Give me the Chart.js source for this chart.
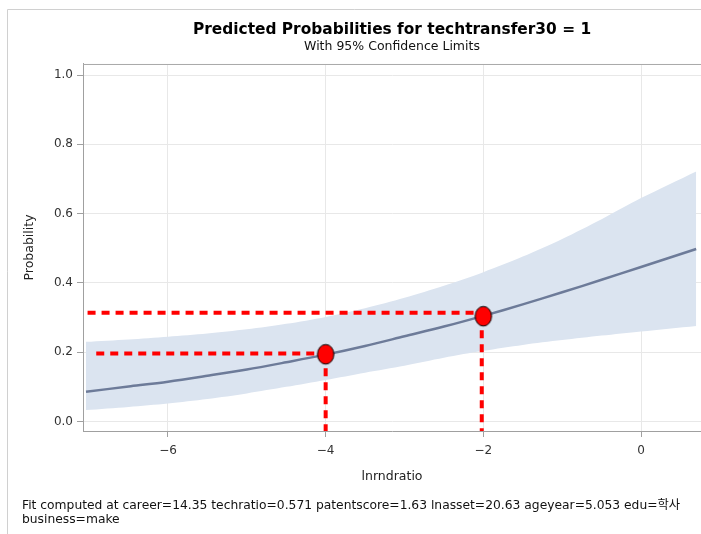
<!DOCTYPE html>
<html>
<head>
<meta charset="utf-8">
<script src="https://cdn.jsdelivr.net/npm/chart.js@4/dist/chart.umd.min.js"></script>
<style>
  html, body { margin: 0; padding: 0; background: #fff; overflow: hidden; }
  .wrap { position: relative; width: 701px; height: 534px; }
</style>
</head>
<body>
<div class="wrap"><canvas id="probChart"></canvas></div>
<script>
// values
const xValues   = [-7.04, -6.5, -6, -5.5, -5, -4.5, -4, -3.5, -3, -2.5, -2, -1.5, -1, -0.5, 0, 0.7];
const predicted = [0.086, 0.101, 0.115, 0.132, 0.150, 0.171, 0.193, 0.218, 0.246, 0.274, 0.305, 0.338, 0.373, 0.409, 0.446, 0.498];
const lowerCL   = [0.033, 0.042, 0.052, 0.065, 0.081, 0.100, 0.120, 0.141, 0.161, 0.184, 0.204, 0.221, 0.235, 0.248, 0.260, 0.276];
const upperCL   = [0.230, 0.237, 0.245, 0.254, 0.266, 0.282, 0.302, 0.327, 0.357, 0.392, 0.431, 0.476, 0.527, 0.584, 0.645, 0.722];

// marked points and the red guide lines
const markX = [-4, -2];
const markY = [0.194, 0.304];
const guideLevels = [0.196, 0.314];
const guideStarts = [-6.91, -7.02];
const guideDrops  = [-4, -2.02];

const xTicks = [-6, -4, -2, 0];
const xTickLabels = ['\u22126', '\u22124', '\u22122', '0'];
const yTicks = [0, 0.2, 0.4, 0.6, 0.8, 1.0];
const yTickLabels = ['0.0', '0.2', '0.4', '0.6', '0.8', '1.0'];

const footnoteLines = [
  'Fit computed at career=14.35 techratio=0.571 patentscore=1.63 lnasset=20.63 ageyear=5.053 edu=\ud559\uc0ac',
  'business=make'
];

const xMin = -7.078, xMax = 0.761;
const yMin = -0.0274, yMax = 1.032;

const pts = (xs, ys) => xs.map((x, i) => ({x: x, y: ys[i]}));

// red ellipse marker
const dot = document.createElement('canvas');
dot.width = 20;
dot.height = 24;
const dc = dot.getContext('2d');
dc.beginPath();
dc.ellipse(10, 12, 8.2, 9.8, 0, 0, 2 * Math.PI);
dc.fillStyle = '#ff0000';
dc.fill();
dc.lineWidth = 1;
dc.strokeStyle = '#000';
dc.stroke();

const guideStyle = {
  borderColor: '#ff0000',
  borderWidth: 4,
  borderDash: [8, 6],
  pointRadius: 0,
  fill: false,
  order: 1
};

const framePlugin = {
  id: 'frame',
  beforeDraw(chart) {
    const ctx = chart.ctx;
    ctx.save();
    ctx.fillStyle = '#fff';
    ctx.fillRect(0, 0, chart.width, chart.height);
    ctx.strokeStyle = '#d0d0d0';
    ctx.lineWidth = 1;
    ctx.beginPath();
    ctx.moveTo(7.5, chart.height);
    ctx.lineTo(7.5, 9.5);
    ctx.lineTo(chart.width, 9.5);
    ctx.stroke();
    ctx.restore();
  },
  beforeDatasetsDraw(chart) {
    const a = chart.chartArea;
    const ctx = chart.ctx;
    ctx.save();
    ctx.strokeStyle = '#a8a8a8';
    ctx.lineWidth = 1;
    ctx.beginPath();
    ctx.moveTo(a.left, a.top + 0.5);
    ctx.lineTo(a.right, a.top + 0.5);
    ctx.stroke();
    ctx.restore();
  },
  afterDraw(chart) {
    const ctx = chart.ctx;
    ctx.save();
    ctx.font = '12.3px "DejaVu Sans", "Noto Sans CJK KR", sans-serif';
    ctx.fillStyle = '#111';
    ctx.textBaseline = 'middle';
    footnoteLines.forEach((t, i) => ctx.fillText(t, 22, 506 + i * 14));
    ctx.restore();
  }
};

new Chart(document.getElementById('probChart'), {
  type: 'line',
  data: {
    datasets: [
      {
        data: pts(markX, markY),
        showLine: false,
        pointStyle: dot,
        pointRadius: 10,
        order: 0
      },
      Object.assign({data: [{x: guideStarts[0], y: guideLevels[0]}, {x: markX[0], y: guideLevels[0]}]}, guideStyle),
      Object.assign({data: [{x: guideStarts[1], y: guideLevels[1]}, {x: markX[1], y: guideLevels[1]}]}, guideStyle),
      Object.assign({data: [{x: guideDrops[0], y: markY[0]}, {x: guideDrops[0], y: yMin}]}, guideStyle),
      Object.assign({data: [{x: guideDrops[1], y: markY[1]}, {x: guideDrops[1], y: yMin}]}, guideStyle),
      {
        data: pts(xValues, predicted),
        borderColor: '#6d7b99',
        borderWidth: 2.5,
        pointRadius: 0,
        tension: 0.3,
        fill: false,
        order: 2
      },
      {
        data: pts(xValues, lowerCL),
        borderWidth: 0,
        borderColor: 'rgba(0,0,0,0)',
        pointRadius: 0,
        tension: 0.3,
        fill: false,
        order: 3
      },
      {
        data: pts(xValues, upperCL),
        borderWidth: 0,
        borderColor: 'rgba(0,0,0,0)',
        backgroundColor: '#dbe4f0',
        pointRadius: 0,
        tension: 0.3,
        fill: '-1',
        order: 4
      }
    ]
  },
  options: {
    responsive: true,
    maintainAspectRatio: false,
    animation: false,
    events: [],
    layout: { padding: 0, autoPadding: false },
    plugins: {
      legend: { display: false },
      tooltip: { enabled: false },
      title: {
        display: true,
        text: 'Predicted Probabilities for techtransfer30 = 1',
        fullSize: false,
        color: '#000',
        font: { family: 'DejaVu Sans', size: 15.4, weight: 'bold' },
        padding: { top: 21, bottom: 0 }
      },
      subtitle: {
        display: true,
        text: 'With 95% Confidence Limits',
        fullSize: false,
        color: '#111',
        font: { family: 'DejaVu Sans', size: 12.5 },
        padding: { top: 0, bottom: 9.5 }
      }
    },
    scales: {
      x: {
        type: 'linear',
        min: xMin,
        max: xMax,
        afterFit(scale) {
          scale.height = 103;
          scale.paddingLeft = 0;
          scale.paddingRight = 0;
        },
        afterBuildTicks(scale) { scale.ticks = xTicks.map(v => ({value: v})); },
        ticks: {
          color: '#333',
          font: { family: 'DejaVu Sans', size: 12 },
          padding: 7,
          maxRotation: 0,
          callback: (v) => xTickLabels[xTicks.indexOf(v)]
        },
        grid: { color: '#e8e8e8', tickColor: '#a0a0a0', tickLength: 6 },
        border: { display: true, color: '#a0a0a0', width: 1 },
        title: {
          display: true,
          text: 'lnrndratio',
          color: '#222',
          font: { family: 'DejaVu Sans', size: 12.5 },
          padding: { top: 4, bottom: 50 }
        }
      },
      y: {
        type: 'linear',
        min: yMin,
        max: yMax,
        afterFit(scale) {
          scale.width = 83;
          scale.paddingTop = 0;
          scale.paddingBottom = 0;
        },
        afterBuildTicks(scale) { scale.ticks = yTicks.map(v => ({value: v})); },
        ticks: {
          color: '#333',
          font: { family: 'DejaVu Sans', size: 12 },
          padding: 4,
          callback: (v) => yTickLabels[yTicks.indexOf(v)]
        },
        grid: { color: '#e8e8e8', tickColor: '#a0a0a0', tickLength: 6 },
        border: { display: true, color: '#a0a0a0', width: 1 },
        title: {
          display: true,
          text: 'Probability',
          color: '#222',
          font: { family: 'DejaVu Sans', size: 12.5 },
          padding: { top: 22, bottom: 0 }
        }
      }
    }
  },
  plugins: [framePlugin]
});
</script>
</body>
</html>
